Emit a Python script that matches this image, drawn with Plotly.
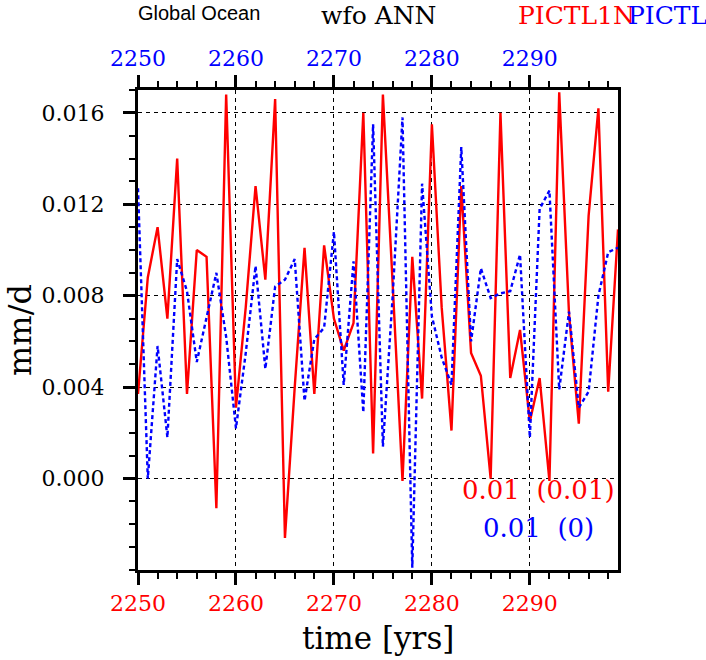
import plotly.graph_objects as go

# annual means, years 2250-2299
years = list(range(2250, 2300))

# PICTL1N (red, solid)
wfo_pictl1n = [
    0.0037, 0.0088, 0.0110, 0.0070, 0.0140, 0.0037, 0.0100, 0.0097, -0.0013, 0.0168,
    0.0031, 0.0075, 0.0128, 0.0087, 0.0166, -0.0026, 0.0040, 0.0101, 0.0037, 0.0102,
    0.0070, 0.0056, 0.0068, 0.0160, 0.0011, 0.0168, 0.0085, -0.0001, 0.0097, 0.0035,
    0.0155, 0.0075, 0.0021, 0.0128, 0.0055, 0.0045, 0.0000, 0.0160, 0.0044, 0.0065,
    0.0025, 0.0044, -0.0001, 0.0169, 0.0072, 0.0024, 0.0115, 0.0162, 0.0038, 0.0109,
]

# PICTL (blue, dotted)
wfo_pictl = [
    0.0127, 0.0000, 0.0058, 0.0018, 0.0096, 0.0082, 0.0051, 0.0070, 0.0090, 0.0062,
    0.0022, 0.0055, 0.0093, 0.0048, 0.0084, 0.0087, 0.0096, 0.0034, 0.0061, 0.0066,
    0.0108, 0.0041, 0.0095, 0.0029, 0.0155, 0.0014, 0.0080, 0.0158, -0.0039, 0.0129,
    0.0071, 0.0053, 0.0041, 0.0145, 0.0060, 0.0092, 0.0079, 0.0081, 0.0082, 0.0098,
    0.0018, 0.0118, 0.0126, 0.0039, 0.0073, 0.0031, 0.0038, 0.0080, 0.0099, 0.0101,
]

x_ticks = [2250, 2260, 2270, 2280, 2290]
y_ticks = [0.000, 0.004, 0.008, 0.012, 0.016]

stats_pictl1n = "0.01  (0.01)"
stats_pictl = "0.01  (0)"

serif = "DejaVu Serif"

W, H = 706, 660
L, R, T, B = 138, 618, 90, 570   # plot frame in pixels


def px(xp):
    return (xp - L) / (R - L)


def py(yp):
    return (B - yp) / (B - T)


fig = go.Figure()
fig.add_trace(go.Scatter(x=years, y=wfo_pictl1n, mode="lines", name="PICTL1N",
                         line=dict(color="red", width=2.4)))
fig.add_trace(go.Scatter(x=years, y=wfo_pictl, mode="lines", name="PICTL", xaxis="x2",
                         line=dict(color="blue", width=2.4, dash="4px,3px")))

axis_common = dict(
    range=[2250, 2299], tickvals=x_ticks, ticks="outside", ticklen=12, tickwidth=3,
    tickcolor="black", showline=True, linecolor="black", linewidth=3,
    showgrid=True, gridcolor="black", gridwidth=1, griddash="4px,4px", zeroline=False,
    minor=dict(tickmode="linear", tick0=2250, dtick=2, ticks="outside", ticklen=6,
               tickwidth=1.5, tickcolor="black", showgrid=False),
)

fig.update_layout(
    width=W, height=H,
    margin=dict(l=L, r=W - R, t=T, b=H - B),
    plot_bgcolor="white", paper_bgcolor="white",
    showlegend=False,
    xaxis=dict(**axis_common, side="bottom",
               tickfont=dict(family=serif, size=22, color="red")),
    xaxis2=dict(**axis_common, side="top", overlaying="x",
                tickfont=dict(family=serif, size=22, color="blue")),
    yaxis=dict(range=[-0.004, 0.017], tickvals=y_ticks, tickformat=".3f",
               ticks="outside", ticklen=12, tickwidth=3, tickcolor="black",
               showline=True, linecolor="black", linewidth=3, mirror=True,
               showgrid=True, gridcolor="black", gridwidth=1, griddash="4px,4px",
               zeroline=False, ticklabelstandoff=14,
               tickfont=dict(family=serif, size=22, color="black"),
               minor=dict(tickmode="linear", tick0=0, dtick=0.001, ticks="outside",
                          ticklen=6, tickwidth=1.5, tickcolor="black", showgrid=False)),
)

annots = [
    dict(text="Global Ocean", x=px(136), y=py(13), xanchor="left", yanchor="middle",
         font=dict(family="Liberation Sans", size=20, color="black")),
    dict(text="wfo ANN", x=px(378), y=py(15), xanchor="center", yanchor="middle",
         font=dict(family=serif, size=25, color="black")),
    dict(text="PICTL1N", x=px(516), y=py(15), xanchor="left", yanchor="middle",
         font=dict(family=serif, size=25, color="red")),
    dict(text="PICTL", x=px(626), y=py(15), xanchor="left", yanchor="middle",
         font=dict(family=serif, size=25, color="blue")),
    dict(text="time [yrs]", x=px(378), y=py(638), xanchor="center", yanchor="middle",
         font=dict(family=serif, size=31, color="black")),
    dict(text="mm/d", x=px(20), y=py(330), xanchor="center", yanchor="middle", textangle=-90,
         font=dict(family=serif, size=32, color="black")),
    dict(text=stats_pictl1n, x=px(538), y=py(490), xanchor="center", yanchor="middle",
         font=dict(family=serif, size=26, color="red")),
    dict(text=stats_pictl, x=px(538), y=py(528), xanchor="center", yanchor="middle",
         font=dict(family=serif, size=26, color="blue")),
]
for a in annots:
    fig.add_annotation(xref="paper", yref="paper", showarrow=False, **a)

# the page body's default 8px margin would shift the whole figure
fig.write_html("out.html", config={"displayModeBar": False},
               post_script="document.body.style.margin = '0px';")
